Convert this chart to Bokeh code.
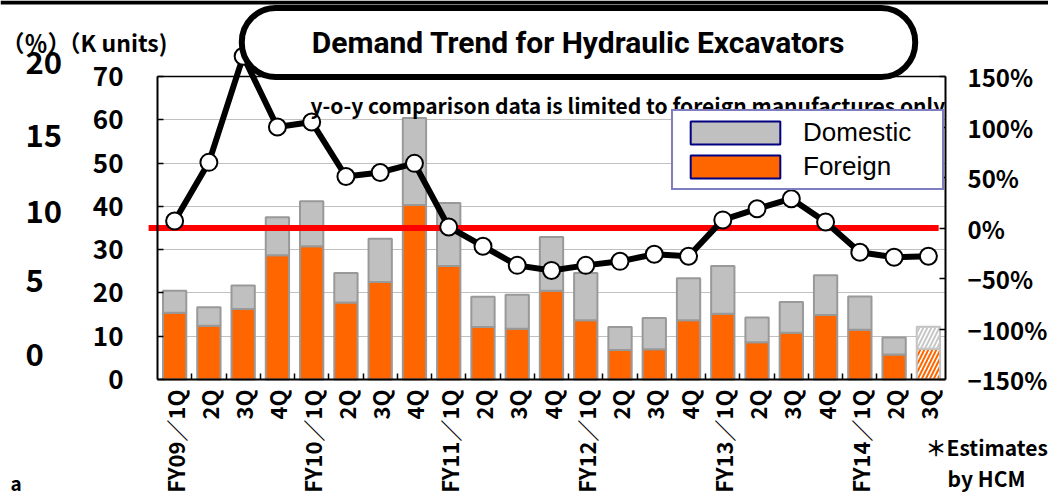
import math
from bokeh.plotting import figure
from bokeh.models import (Range1d, LinearAxis, FixedTicker, BoxAnnotation,
                          ColumnDataSource, Label, Legend, LegendItem)
from bokeh.embed import file_html
from bokeh.resources import INLINE

# ---------------- data ----------------
categories = ["FY09-1Q", "FY09-2Q", "FY09-3Q", "FY09-4Q",
              "FY10-1Q", "FY10-2Q", "FY10-3Q", "FY10-4Q",
              "FY11-1Q", "FY11-2Q", "FY11-3Q", "FY11-4Q",
              "FY12-1Q", "FY12-2Q", "FY12-3Q", "FY12-4Q",
              "FY13-1Q", "FY13-2Q", "FY13-3Q", "FY13-4Q",
              "FY14-1Q", "FY14-2Q", "FY14-3Q"]
tick_labels = ["FY09／1Q", "2Q", "3Q", "4Q",
               "FY10／1Q", "2Q", "3Q", "4Q",
               "FY11／1Q", "2Q", "3Q", "4Q",
               "FY12／1Q", "2Q", "3Q", "4Q",
               "FY13／1Q", "2Q", "3Q", "4Q",
               "FY14／1Q", "2Q", "3Q"]
foreign = [15.4, 12.4, 16.3, 28.7, 30.8, 17.8, 22.5, 40.3, 26.2, 12.1, 11.7, 20.5,
           13.7, 6.8, 7.0, 13.7, 15.2, 8.6, 10.8, 14.9, 11.5, 5.8, 7.1]
domestic = [5.1, 4.3, 5.4, 8.8, 10.4, 6.8, 10.0, 20.1, 14.6, 7.0, 7.9, 12.4,
            10.9, 5.3, 7.2, 9.7, 11.0, 5.7, 7.1, 9.2, 7.7, 3.9, 5.1]
yoy_pct = [7, 65, 170, 100, 105, 51, 55, 64, 1, -18, -37, -42,
           -37, -33, -26, -28, 8, 19, 29, 6, -24, -29, -28]
estimate_flags = [False] * 22 + [True]

k_ticks = [0, 10, 20, 30, 40, 50, 60, 70]
grid_ticks = [10, 20, 30, 40, 50, 60]
pct_ticks = [-150, -100, -50, 0, 50, 100, 150]
pct_tick_labels = ["−150%", "−100%", "−50%", "0%", "50%", "100%", "150%"]
zero_line = [0]
pct_col_labels = ["20", "15", "10", "5", "0"]

ORANGE = "#FF6600"
GRAY = "#C0C0C0"
EDGE = "#999999"
NAVY = "#000080"
JP = "Noto Sans CJK JP"

n = len(categories)
K_MIN, K_MAX = k_ticks[0], k_ticks[-1]
P_MIN, P_MAX = pct_ticks[0], pct_ticks[-1]
slot = [i + 0.5 for i in range(n)]          # centre of each category slot
bounds = [float(i) for i in range(1, n)]    # boundaries between category slots
act = [i for i in range(n) if not estimate_flags[i]]
est = [i for i in range(n) if estimate_flags[i]]
src_act = ColumnDataSource(dict(x=[slot[i] for i in act], cat=[categories[i] for i in act],
                                Foreign=[foreign[i] for i in act],
                                Domestic=[domestic[i] for i in act]))
src_est = ColumnDataSource(dict(x=[slot[i] for i in est], cat=[categories[i] for i in est],
                                Foreign=[foreign[i] for i in est],
                                Domestic=[domestic[i] for i in est]))
src_line = ColumnDataSource(dict(x=slot, cat=categories, pct=yoy_pct))

# ---------------- layout: the frame is the whole canvas, the chart box sits inside ----
W, H = 1048, 493
BL, BR, BT, BB = 157, 945, 76, 379          # chart box in canvas pixels
px_x = (BR - BL) / n
px_k = (BB - BT) / (K_MAX - K_MIN)
px_p = (BB - BT) / (P_MAX - P_MIN)
x_range = Range1d(-BL / px_x, n + (W - BR) / px_x)
y_range = Range1d(K_MIN - (H - BB) / px_k, K_MAX + BT / px_k)
p_range = Range1d(P_MIN - (H - BB) / px_p, P_MAX + BT / px_p)

p = figure(width=W, height=H, x_range=x_range, y_range=y_range,
           output_backend="svg", toolbar_location=None, min_border=0, title=None)
p.extra_y_ranges = {"pct": p_range}
p.outline_line_color = None
p.background_fill_color = "white"
p.border_fill_color = "white"

def xn(rx):
    return (rx - BL) / px_x

def yk(ry):
    return (BB - ry) / px_k

# slide decoration: thick black rule along the top edge
p.add_layout(BoxAnnotation(top=yk(0), bottom=yk(4), fill_color="black", fill_alpha=1,
                           line_color=None, level="underlay"))

# grid
p.xgrid.visible = False
g = p.ygrid[0]
g.ticker = FixedTicker(ticks=grid_ticks)
g.grid_line_color = "#808080"
g.grid_line_dash = "1 1"
g.grid_line_width = 1
if "cross_bounds" in g.properties():
    g.cross_bounds = (0, n)
else:
    g.visible = False
    p.segment(x0=[0] * len(grid_ticks), x1=[n] * len(grid_ticks), y0=grid_ticks,
              y1=grid_ticks, line_color="#808080", line_dash="1 1", line_width=1)

def style_axis(ax, size):
    ax.minor_tick_line_color = None
    ax.axis_line_width = 2
    ax.major_tick_line_width = 1.5
    ax.major_label_text_font = JP
    ax.major_label_text_font_style = "bold"
    ax.major_label_text_font_size = size
    ax.major_label_text_color = "black"

# left axis
ya = p.yaxis[0]
style_axis(ya, "26px")
ya.fixed_location = 0
ya.bounds = (K_MIN, K_MAX)
ya.ticker = FixedTicker(ticks=k_ticks)
ya.major_tick_in = 6
ya.major_tick_out = 0
ya.major_label_standoff = 34

# right axis
ra = LinearAxis(y_range_name="pct", ticker=FixedTicker(ticks=pct_ticks),
                major_label_overrides={v: t for v, t in zip(pct_ticks, pct_tick_labels)})
style_axis(ra, "24px")
ra.fixed_location = n
ra.bounds = (P_MIN, P_MAX)
ra.major_tick_in = 6
ra.major_tick_out = 0
ra.major_label_standoff = 22
p.add_layout(ra, "right")

# bottom axis (labels at slot centres, small ticks at slot boundaries)
ba = p.xaxis[0]
style_axis(ba, "22px")
ba.fixed_location = K_MIN
ba.bounds = (0, n)
ba.ticker = FixedTicker(ticks=slot, minor_ticks=bounds)
ba.major_label_overrides = {c: t for c, t in zip(slot, tick_labels)}
ba.major_label_orientation = math.pi / 2
ba.major_tick_line_color = None
ba.major_tick_in = 0
ba.major_tick_out = 0
ba.minor_tick_line_color = "black"
ba.minor_tick_in = 6
ba.minor_tick_out = 0
ba.minor_tick_line_width = 1.5
ba.major_label_standoff = 10

# top edge of the chart box
ta = LinearAxis(ticker=FixedTicker(ticks=[]))
ta.fixed_location = K_MAX
ta.bounds = (0, n)
ta.axis_line_width = 1.5
ta.major_tick_line_color = None
ta.minor_tick_line_color = None
p.add_layout(ta, "above")

# bars
p.vbar_stack(["Foreign", "Domestic"], x="x", width=0.68, source=src_act,
             fill_color=[ORANGE, GRAY], line_color=EDGE, line_width=2)
p.vbar_stack(["Foreign", "Domestic"], x="x", width=0.68, source=src_est,
             fill_color="white", line_color="#C4C4C4", line_width=2,
             hatch_pattern="/", hatch_color=[ORANGE, "#C8C8C8"],
             hatch_weight=2, hatch_scale=8)

# zero reference line (right axis)
p.segment(x0=[-0.26], x1=[n - 0.2], y0=zero_line, y1=zero_line, y_range_name="pct",
          line_color="#FF0000", line_width=6)

# y-o-y line
p.line(x="x", y="pct", source=src_line, y_range_name="pct",
       line_color="black", line_width=6)
p.scatter(x="x", y="pct", source=src_line, y_range_name="pct", size=17,
          fill_color="white", line_color="black", line_width=2)

# legend (degenerate proxy renderers carry the legend swatch styling)
dom_proxy = p.vbar(x=[0], top=[0], bottom=[0], width=0, fill_color=GRAY,
                   line_color=NAVY, line_width=2)
for_proxy = p.vbar(x=[0], top=[0], bottom=[0], width=0, fill_color=ORANGE,
                   line_color=NAVY, line_width=2)
legend = Legend(items=[LegendItem(label="Domestic", renderers=[dom_proxy]),
                       LegendItem(label="Foreign", renderers=[for_proxy])],
                location=(671, 303), padding=6, spacing=3, margin=0,
                glyph_width=112, glyph_height=29, label_standoff=12, label_width=133,
                label_text_font="Liberation Sans", label_text_font_size="26px",
                label_text_color="black",
                border_line_color=NAVY, border_line_width=2, background_fill_color="white",
                background_fill_alpha=1)
p.add_layout(legend)

# ---------------- texts (positions from reference pixels) ----------------
def add_text(rx, ry, text, size, align="left", style="bold", font=JP, **kw):
    p.add_layout(Label(x=xn(rx), y=yk(ry), text=text,
                       text_font=font, text_font_style=style, text_font_size=size,
                       text_align=align, text_baseline="middle", text_color="black", **kw))

# title box
add_text(578, 42, "Demand Trend for Hydraulic Excavators", "30px", align="center",
         font="Roboto",
         background_fill_color="white", border_line_color="black", border_line_width=6,
         border_radius=34, padding=dict(left=70, right=70, top=17, bottom=17))

add_text(310, 104, "y-o-y comparison data is limited to foreign manufactures only", "21px")
add_text(1, 41, "（％）", "23px")
add_text(57, 41, "（K units)", "23px")
for lbl, ry in zip(pct_col_labels, [62, 135, 211, 280, 354]):
    add_text(25, ry, lbl, "31px")
add_text(925, 446, "＊Estimates", "21px")
add_text(986, 477, "by HCM", "21px", align="center")
add_text(10, 482, "a", "19px")

open("out.html", "w").write(file_html(p, INLINE))
